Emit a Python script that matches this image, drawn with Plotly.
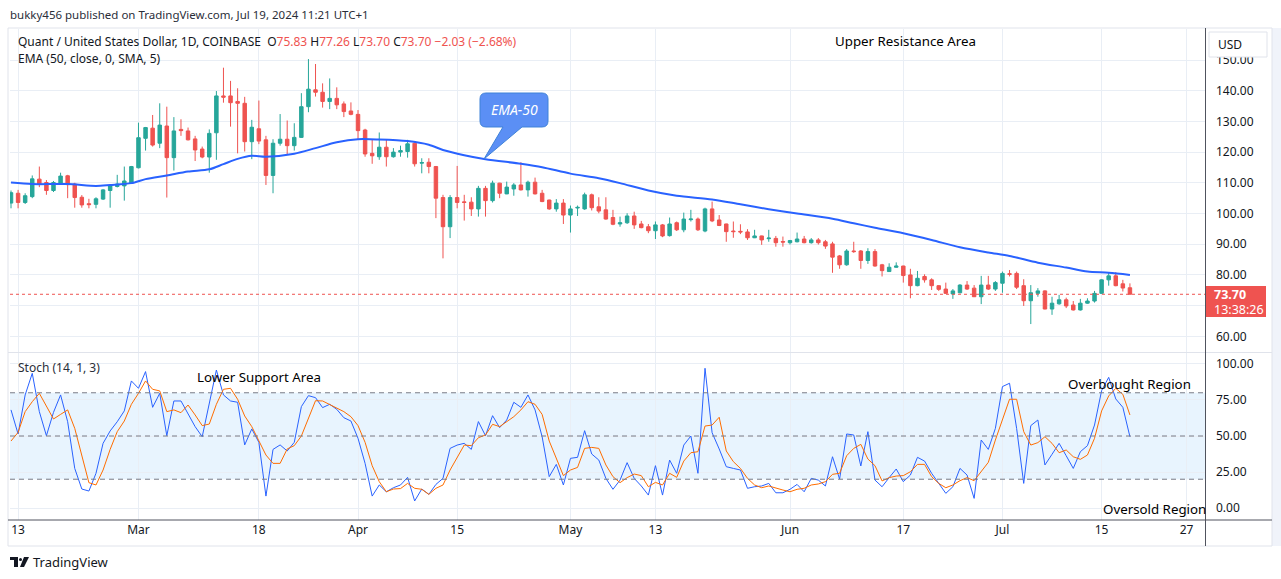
import plotly.graph_objects as go
import pandas as pd

# ---------------- data ----------------
start_date = "2024-02-12"
n_days = 159
dates = pd.date_range(start_date, periods=n_days, freq="D")

open_ = [103.4, 106.6, 103.6, 105.5, 111.2, 110.1, 107.5, 109.6, 112.3, 109.6,
         105.3, 103.2, 103.0, 104.7, 107.5, 108.8, 109.0, 109.9, 114.9, 124.5,
         127.8, 122.9, 128.5, 118.2, 127.4, 126.9, 124.3, 121.0, 118.4, 126.3,
         138.3, 138.3, 136.5, 135.9, 123.4, 127.6, 124.0, 112.4, 122.9, 124.2,
         122.1, 124.8, 134.8, 140.3, 139.5, 136.5, 137.5, 135.7, 133.4, 132.3,
         127.2, 119.6, 118.5, 121.6, 118.5, 120.0, 120.2, 122.9, 116.4, 116.7,
         115.3, 105.2, 95.7, 105.2, 103.8, 103.7, 101.5, 108.2, 104.2, 109.9,
         106.4, 108.0, 109.3, 107.7, 110.2, 106.6, 104.4, 101.5, 103.4, 99.5,
         101.8, 101.5, 106.1, 102.2, 101.2, 98.7, 96.6, 97.0, 99.2, 96.6,
         95.7, 94.4, 96.3, 92.8, 97.0, 94.7, 98.0, 98.2, 94.3, 101.5,
         97.9, 96.6, 94.3, 94.2, 94.0, 92.1, 92.7, 91.8, 91.9, 90.9,
         90.5, 90.8, 91.7, 90.5, 91.4, 90.8, 90.1, 86.2, 83.3, 87.8,
         87.8, 84.7, 87.6, 83.3, 81.1, 82.5, 82.9, 80.0, 76.5, 79.5,
         78.4, 76.5, 75.4, 73.8, 74.2, 76.7, 75.7, 72.9, 76.7, 75.4,
         77.3, 80.4, 80.5, 76.5, 71.6, 74.0, 74.8, 68.9, 70.6, 71.9,
         70.2, 68.6, 70.8, 71.5, 74.0, 78.4, 79.7, 77.1, 75.83]
high = [107.5, 107.7, 106.6, 112.4, 115.3, 110.9, 110.6, 113.3, 112.6, 110.0,
        106.0, 104.8, 105.3, 108.0, 109.4, 112.6, 115.3, 115.5, 129.6, 128.2,
        132.1, 135.9, 134.8, 131.4, 130.7, 128.0, 125.3, 121.8, 127.4, 139.9,
        147.5, 143.2, 140.8, 138.0, 130.5, 136.8, 125.3, 124.2, 132.4, 130.3,
        129.4, 139.2, 150.3, 148.7, 142.4, 144.0, 141.1, 136.5, 136.2, 133.7,
        127.6, 124.0, 126.4, 124.0, 121.3, 122.1, 124.0, 123.4, 118.0, 118.0,
        115.5, 106.1, 106.0, 115.5, 106.1, 105.3, 109.0, 109.0, 110.7, 110.0,
        110.4, 109.9, 116.7, 110.7, 111.7, 107.7, 104.5, 104.7, 104.7, 102.6,
        102.6, 106.8, 106.5, 105.3, 105.3, 101.2, 99.0, 100.1, 100.6, 97.6,
        96.6, 97.4, 96.6, 98.7, 97.4, 100.3, 101.2, 98.7, 101.9, 103.9,
        99.5, 96.7, 97.4, 96.5, 94.9, 94.7, 92.8, 94.7, 92.7, 92.5,
        91.4, 93.8, 92.7, 92.0, 92.0, 91.4, 90.8, 86.5, 88.4, 90.8,
        88.1, 88.7, 88.4, 83.6, 83.8, 84.1, 83.0, 82.0, 81.3, 80.2,
        78.9, 76.7, 77.5, 75.4, 77.0, 78.0, 76.7, 79.7, 79.7, 78.0,
        81.1, 81.6, 81.1, 78.6, 76.7, 75.7, 75.0, 72.9, 73.5, 72.6,
        71.5, 72.2, 72.4, 74.8, 78.6, 80.9, 80.9, 78.4, 77.26]
low = [101.7, 101.7, 103.1, 105.0, 108.6, 106.1, 107.0, 109.3, 105.0, 101.9,
       101.9, 101.7, 101.7, 104.4, 101.9, 108.5, 104.2, 109.6, 114.7, 120.5,
       121.8, 121.3, 105.2, 114.0, 125.3, 123.8, 117.1, 118.0, 113.3, 117.5,
       136.1, 128.3, 119.6, 120.2, 117.7, 122.6, 109.3, 106.6, 122.1, 119.1,
       120.5, 124.6, 133.0, 138.1, 134.5, 134.0, 134.0, 131.4, 132.0, 124.0,
       118.5, 116.2, 117.5, 115.3, 118.2, 118.5, 118.2, 115.3, 113.1, 113.1,
       98.5, 85.4, 92.0, 101.7, 97.7, 99.2, 99.0, 99.0, 103.6, 105.0,
       106.3, 105.8, 107.5, 105.5, 106.2, 103.7, 101.2, 100.6, 96.6, 93.8,
       99.2, 101.2, 101.0, 100.1, 98.0, 96.2, 95.7, 96.6, 95.0, 95.2,
       93.6, 91.7, 92.3, 92.5, 94.3, 93.9, 97.4, 94.3, 93.9, 97.2,
       95.9, 90.8, 92.1, 93.3, 91.4, 92.0, 89.8, 90.8, 89.2, 89.2,
       89.9, 90.6, 90.3, 90.2, 89.9, 88.5, 80.7, 82.0, 83.0, 87.2,
       82.0, 83.6, 82.7, 79.5, 81.0, 82.3, 77.5, 72.4, 76.3, 77.5,
       75.1, 74.8, 73.8, 72.2, 74.0, 75.1, 72.8, 70.5, 75.1, 74.8,
       74.2, 79.5, 75.4, 69.9, 64.0, 72.9, 68.8, 67.0, 70.3, 69.2,
       68.4, 68.4, 70.6, 71.0, 73.8, 76.5, 76.3, 74.6, 73.70]
close = [106.8, 103.6, 105.8, 111.3, 109.6, 107.5, 110.1, 112.2, 109.4, 105.2,
         102.8, 102.9, 104.8, 107.7, 109.1, 109.6, 110.6, 115.3, 124.7, 128.0,
         122.3, 128.8, 118.2, 126.9, 127.0, 124.0, 120.7, 118.4, 126.1, 138.3,
         137.9, 136.1, 135.9, 123.4, 128.1, 123.6, 112.4, 122.9, 124.2, 122.1,
         124.8, 134.8, 140.5, 139.5, 136.5, 137.5, 135.4, 133.2, 132.3, 127.0,
         119.4, 118.8, 121.6, 118.5, 120.0, 120.5, 122.7, 116.2, 116.6, 115.3,
         105.0, 95.7, 105.2, 103.6, 103.6, 101.5, 108.2, 104.2, 109.9, 106.6,
         108.6, 109.3, 107.7, 110.2, 106.4, 103.9, 101.5, 103.4, 99.5, 101.5,
         102.0, 106.1, 101.9, 100.8, 98.2, 96.5, 97.0, 99.2, 96.3, 95.4,
         94.4, 96.3, 92.7, 96.6, 94.7, 98.2, 98.2, 94.7, 101.5, 97.6,
         96.1, 94.1, 94.1, 94.0, 92.1, 92.7, 91.4, 92.0, 90.5, 90.7,
         91.2, 91.7, 90.5, 91.4, 90.5, 89.4, 85.8, 83.3, 87.8, 87.6,
         84.7, 87.6, 82.9, 81.4, 82.5, 82.9, 79.8, 76.5, 78.9, 78.4,
         76.5, 75.3, 74.0, 74.8, 76.7, 75.4, 72.9, 76.7, 75.4, 77.5,
         80.5, 80.2, 76.0, 71.6, 74.2, 74.8, 68.9, 70.8, 71.9, 69.9,
         68.6, 70.8, 71.5, 74.0, 78.4, 79.7, 76.5, 75.73, 73.70]

ema_dates = ["2024-02-12", "2024-02-15", "2024-02-20", "2024-02-24", "2024-02-26",
             "2024-02-29", "2024-03-02", "2024-03-05", "2024-03-08", "2024-03-11",
             "2024-03-13", "2024-03-15", "2024-03-17", "2024-03-19", "2024-03-23",
             "2024-03-26", "2024-03-29", "2024-04-01", "2024-04-04", "2024-04-08",
             "2024-04-11", "2024-04-13", "2024-04-16", "2024-04-19", "2024-04-24",
             "2024-04-27", "2024-05-01", "2024-05-05", "2024-05-08", "2024-05-12",
             "2024-05-16", "2024-05-21", "2024-05-25", "2024-05-29", "2024-06-02",
             "2024-06-07", "2024-06-10", "2024-06-13", "2024-06-17", "2024-06-21",
             "2024-06-25", "2024-06-29", "2024-07-02", "2024-07-06", "2024-07-10",
             "2024-07-13", "2024-07-16", "2024-07-19"]
ema_vals = [110.1, 109.6, 109.6, 109.0, 109.3, 109.9, 111.2, 112.4, 113.7, 114.4,
            116.1, 117.8, 118.8, 118.5, 119.5, 121.3, 123.2, 124.2, 124.1, 123.6,
            122.4, 120.7, 119.0, 117.7, 116.2, 115.1, 113.0, 111.5, 109.9, 107.5,
            105.8, 104.6, 103.0, 101.4, 100.0, 98.3, 96.8, 95.4, 93.6, 91.4,
            89.0, 87.3, 86.2, 84.0, 82.4, 81.1, 80.7, 80.0]

stoch_k = [68.1, 51.4, 78.5, 93.5, 66.9, 50.2, 66.4, 78.5, 59.9, 27.5,
           13.2, 11.8, 24.1, 44.9, 53.5, 59.9, 67.4, 88.2, 83.1, 94.7,
           69.9, 79.6, 50.2, 74.3, 74.3, 65.7, 56.5, 49.5, 71.5, 95.8,
           78.5, 74.3, 73.4, 43.8, 54.9, 45.6, 8.3, 40.7, 43.8, 39.6,
           45.6, 70.4, 78.0, 76.6, 69.7, 72.0, 68.5, 62.7, 60.4, 48.4,
           31.0, 8.3, 16.0, 11.3, 14.1, 16.0, 21.3, 4.9, 13.2, 9.5,
           16.4, 20.6, 41.4, 43.7, 44.9, 40.7, 60.0, 50.2, 64.1, 55.8,
           61.1, 73.4, 69.9, 78.5, 68.1, 49.5, 21.8, 30.3, 16.0, 34.5,
           35.2, 53.7, 37.5, 33.3, 20.6, 13.0, 19.4, 31.5, 20.6, 15.3,
           9.0, 29.4, 9.0, 33.3, 24.1, 43.7, 50.0, 24.1, 97.0, 52.3,
           41.0, 28.7, 27.5, 26.4, 13.7, 14.8, 15.3, 17.1, 10.6, 10.6,
           13.0, 16.4, 11.3, 20.6, 19.4, 15.3, 35.6, 20.1, 51.4, 50.7,
           29.2, 53.0, 19.4, 14.8, 21.1, 27.1, 18.3, 22.9, 35.2, 32.6,
           24.1, 16.7, 10.2, 14.8, 27.5, 22.9, 6.7, 47.2, 40.7, 55.3,
           84.3, 86.6, 55.3, 17.1, 57.2, 61.1, 29.9, 37.3, 44.9, 36.3,
           27.5, 39.1, 43.3, 57.6, 81.5, 90.7, 75.7, 69.9, 49.5]
stoch_d = [46.5, 52.5, 66.9, 73.8, 79.6, 70.4, 61.8, 65.0, 68.1, 55.3,
           36.8, 17.6, 16.0, 26.4, 40.7, 53.0, 60.4, 72.0, 79.6, 88.2,
           82.4, 81.3, 66.9, 68.1, 66.2, 71.5, 64.6, 57.2, 58.3, 72.0,
           82.4, 83.1, 75.5, 63.9, 56.5, 47.2, 36.8, 31.0, 31.0, 41.0,
           43.3, 50.0, 61.8, 74.5, 74.3, 72.0, 69.2, 66.9, 63.4, 57.2,
           45.6, 29.4, 18.3, 11.3, 13.2, 13.5, 17.1, 13.7, 13.0, 9.5,
           13.7, 16.0, 26.4, 35.6, 43.7, 43.3, 48.8, 50.7, 58.1, 56.5,
           60.0, 63.4, 68.1, 73.8, 72.0, 65.0, 46.5, 34.5, 22.5, 26.4,
           28.2, 41.4, 42.1, 41.4, 29.9, 21.8, 17.6, 21.1, 23.6, 22.5,
           14.8, 17.8, 16.0, 24.1, 21.3, 32.6, 38.4, 39.1, 56.9, 57.6,
           63.0, 39.6, 32.2, 27.5, 20.6, 16.0, 14.1, 15.3, 13.7, 12.5,
           11.3, 13.0, 13.7, 16.0, 16.7, 18.3, 23.4, 24.1, 36.3, 41.4,
           44.2, 34.0, 29.4, 18.8, 21.1, 22.2, 22.5, 25.2, 30.3, 30.3,
           21.8, 17.1, 14.1, 16.0, 19.0, 21.1, 19.0, 25.7, 31.7, 47.2,
           61.1, 75.5, 75.5, 53.0, 43.7, 45.4, 49.5, 44.9, 38.4, 40.3,
           35.6, 33.8, 36.8, 48.4, 67.4, 77.8, 83.1, 78.9, 64.6]

x_tick_dates = ["2024-02-13", "2024-03-01", "2024-03-18", "2024-04-01", "2024-04-15",
                "2024-05-01", "2024-05-13", "2024-06-01", "2024-06-17", "2024-07-01",
                "2024-07-15", "2024-07-27"]
x_tick_text = ["13", "Mar", "18", "Apr", "15", "May", "13", "Jun", "17", "Jul", "15", "27"]
price_ticks = [60, 70, 80, 90, 100, 110, 120, 130, 140, 150]
price_tick_text = ["60.00", "", "80.00", "90.00", "100.00", "110.00", "120.00", "130.00", "140.00", "150.00"]
stoch_ticks = [0, 25, 50, 75, 100]
stoch_bands = [20, 50, 80]

# ---------------- layout helpers ----------------
W, H = 1281, 579
ML, MR, MT, MB = 10, 76, 29, 59
PW, PH = W - ML - MR, H - MT - MB


def px(x):
    return (x - ML) / PW


def py(y):
    return (H - MB - y) / PH


FONT = "Noto Sans"
TXT = "#131722"
GRID = "#e9eef5"
UP, DOWN = "#26a69a", "#ef5350"

fig = go.Figure()

fig.add_trace(go.Candlestick(
    x=dates, open=open_, high=high, low=low, close=close,
    increasing=dict(line=dict(color=UP, width=1), fillcolor=UP),
    decreasing=dict(line=dict(color=DOWN, width=1), fillcolor=DOWN),
    whiskerwidth=0, xaxis="x", yaxis="y", showlegend=False, hoverinfo="skip"))

fig.add_trace(go.Scatter(
    x=pd.to_datetime(ema_dates), y=ema_vals, mode="lines",
    line=dict(color="#2962FF", width=2, shape="spline", smoothing=0.8),
    xaxis="x", yaxis="y", showlegend=False, hoverinfo="skip"))

fig.add_trace(go.Scatter(
    x=dates, y=stoch_k, mode="lines", line=dict(color="#2962FF", width=1),
    xaxis="x2", yaxis="y2", showlegend=False, hoverinfo="skip"))
fig.add_trace(go.Scatter(
    x=dates, y=stoch_d, mode="lines", line=dict(color="#FF6D00", width=1),
    xaxis="x2", yaxis="y2", showlegend=False, hoverinfo="skip"))

x_start = dates[0] - pd.Timedelta(hours=3.4)
x_end = dates[0] + pd.Timedelta(days=168.6)

common_x = dict(type="date", range=[x_start, x_end], tickvals=pd.to_datetime(x_tick_dates),
                showgrid=True, gridcolor=GRID, gridwidth=1, zeroline=False,
                showline=False, fixedrange=True)

main_bottom = py(352)
stoch_top = py(353)

fig.update_layout(
    width=W, height=H,
    margin=dict(l=ML, r=MR, t=MT, b=MB),
    paper_bgcolor="white", plot_bgcolor="white",
    font=dict(family=FONT, size=12, color=TXT),
    showlegend=False,
    boxgap=0.3,
    xaxis=dict(**common_x, domain=[0, 1], anchor="y", showticklabels=False,
               rangeslider=dict(visible=False)),
    yaxis=dict(domain=[main_bottom, 1], anchor="x", side="right",
               range=[54.9, 160.1], tickvals=price_ticks, ticktext=price_tick_text,
               showgrid=True, gridcolor=GRID, zeroline=False, showline=False,
               ticks="", ticklabelstandoff=10,
               tickfont=dict(family=FONT, size=12, color=TXT)),
    xaxis2=dict(**common_x, domain=[0, 1], anchor="y2", matches="x",
                ticktext=x_tick_text, ticks="", ticklabelstandoff=1,
                tickfont=dict(family=FONT, size=12, color=TXT)),
    yaxis2=dict(domain=[0, stoch_top], anchor="x2", side="right",
                range=[-8.3, 107.6], tickvals=stoch_ticks, tickformat=".2f",
                showgrid=True, gridcolor=GRID, zeroline=False, showline=False,
                ticks="", ticklabelstandoff=10,
                tickfont=dict(family=FONT, size=12, color=TXT)),
)

shapes = []
# stoch band fill and dashed levels
shapes.append(dict(type="rect", xref="x2 domain", yref="y2", x0=0, x1=1,
                   y0=stoch_bands[0], y1=stoch_bands[2],
                   fillcolor="rgba(33,150,243,0.1)", line=dict(width=0), layer="below"))
for lv in stoch_bands:
    shapes.append(dict(type="line", xref="x2 domain", yref="y2", x0=0, x1=1, y0=lv, y1=lv,
                       line=dict(color="#787b86", width=1, dash="5px,4px"), layer="above"))
# last price dotted line
shapes.append(dict(type="line", xref="x domain", yref="y", x0=0, x1=1,
                   y0=close[-1], y1=close[-1],
                   line=dict(color=DOWN, width=1, dash="dot"), layer="above"))

# frame
BORDER = "#e0e3eb"
AXLINE = "#50535e"
shapes.append(dict(type="rect", xref="paper", yref="paper", x0=px(1272), x1=px(1281),
                   y0=py(546), y1=py(28), fillcolor="#f0f3fa", line=dict(width=0)))
shapes.append(dict(type="rect", xref="paper", yref="paper", x0=px(8), x1=px(1272),
                   y0=py(546), y1=py(28), line=dict(color=BORDER, width=1)))
shapes.append(dict(type="line", xref="paper", yref="paper", x0=px(8), x1=px(1272),
                   y0=py(352.5), y1=py(352.5), line=dict(color=BORDER, width=1)))
shapes.append(dict(type="line", xref="paper", yref="paper", x0=px(8), x1=px(1272),
                   y0=py(520), y1=py(520), line=dict(color=AXLINE, width=1)))
shapes.append(dict(type="line", xref="paper", yref="paper", x0=px(1205.5), x1=px(1205.5),
                   y0=py(546), y1=py(28), line=dict(color=AXLINE, width=1)))
# USD box
shapes.append(dict(type="rect", xref="paper", yref="paper", x0=px(1209), x1=px(1267),
                   y0=py(57), y1=py(32), fillcolor="white",
                   line=dict(color="#e0e3eb", width=1)))
# last-price label box
shapes.append(dict(type="rect", xref="paper", yref="paper", x0=px(1206), x1=px(1266),
                   y0=py(317), y1=py(286), fillcolor=DOWN, line=dict(width=0)))


def P(x, y):
    return f"{px(x):.5f},{py(y):.5f}"


# EMA-50 callout bubble (pixel geometry converted to paper coords)
bx0, bx1, by0, by1, r = 480, 548, 93, 127, 6
path = (f"M {P(bx0 + r, by0)} L {P(bx1 - r, by0)} Q {P(bx1, by0)} {P(bx1, by0 + r)} "
        f"L {P(bx1, by1 - r)} Q {P(bx1, by1)} {P(bx1 - r, by1)} "
        f"L {P(522, by1)} L {P(484, 159)} L {P(503, by1)} "
        f"L {P(bx0 + r, by1)} Q {P(bx0, by1)} {P(bx0, by1 - r)} "
        f"L {P(bx0, by0 + r)} Q {P(bx0, by0)} {P(bx0 + r, by0)} Z")
shapes.append(dict(type="path", xref="paper", yref="paper", path=path,
                   fillcolor="#5b8ff5", line=dict(color="#3f82d8", width=1), layer="above"))

# TradingView logo glyph
shapes.append(dict(type="rect", xref="paper", yref="paper", x0=px(10), x1=px(18),
                   y0=py(560), y1=py(557), fillcolor="#131722", line=dict(width=0)))
shapes.append(dict(type="rect", xref="paper", yref="paper", x0=px(14), x1=px(18),
                   y0=py(567), y1=py(557), fillcolor="#131722", line=dict(width=0)))
shapes.append(dict(type="circle", xref="paper", yref="paper", x0=px(19), x1=px(22),
                   y0=py(561), y1=py(558), fillcolor="#131722", line=dict(width=0)))
shapes.append(dict(type="path", xref="paper", yref="paper",
                   path=f"M {P(24, 557)} L {P(29, 557)} L {P(24, 567)} L {P(20, 567)} Z",
                   fillcolor="#131722", line=dict(width=0)))

fig.update_layout(shapes=shapes)

ann = []


def text(x, y, s, size=12, color=TXT, xanchor="left", **kw):
    ann.append(dict(xref="paper", yref="paper", x=px(x), y=py(y), text=s, showarrow=False,
                    xanchor=xanchor, yanchor="middle",
                    font=dict(family=FONT, size=size, color=color), **kw))


RED = DOWN
chg = close[-1] - close[-2]
pct = chg / close[-2] * 100
legend1 = ("Quant / United States Dollar, 1D, COINBASE&nbsp;&nbsp;"
           f"O<span style='color:{RED}'>{open_[-1]:.2f}</span> "
           f"H<span style='color:{RED}'>{high[-1]:.2f}</span> "
           f"L<span style='color:{RED}'>{low[-1]:.2f}</span> "
           f"C<span style='color:{RED}'>{close[-1]:.2f} "
           f"\u2212{abs(chg):.2f} (\u2212{abs(pct):.2f}%)</span>")
text(8, 14, "bukky456 published on TradingView.com, Jul 19, 2024 11:21 UTC+1", size=11.5,
     color="#2a2e39")
text(16, 42, legend1, size=12)
text(16, 58, "EMA (50, close, 0, SMA, 5)", size=12)
text(833, 41, "Upper Resistance Area", size=13.3, color="#000000")
text(514, 110, "<i>EMA-50</i>", size=14, color="white", xanchor="center")
text(16, 367, "Stoch (14, 1, 3)", size=12, color="#2a2e39")
text(195, 377, "Lower Support Area", size=13.3, color="#000000")
text(1066, 384, "Overbought Region", size=13.3, color="#000000")
text(1101, 509, "Oversold Region", size=13.3, color="#000000")
text(1216, 44, "USD", size=12)
text(1212, 295, f"<b>{close[-1]:.2f}</b>", size=12.5, color="white")
text(1212, 309, "13:38:26", size=12.5, color="white")
text(31, 562, "TradingView", size=13, color="#131722")

fig.update_layout(annotations=ann)

fig.write_html("out.html", config={"displayModeBar": False})
